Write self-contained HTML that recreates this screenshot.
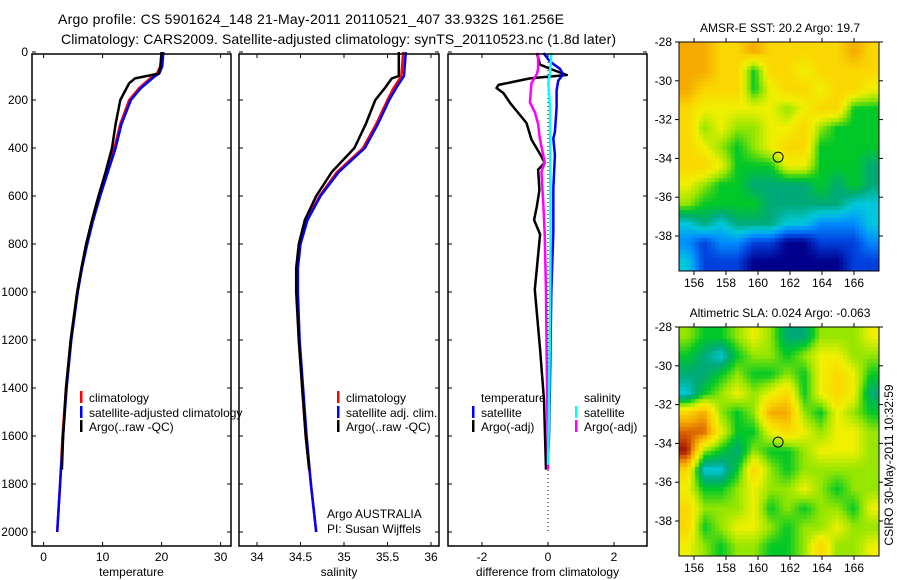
<!DOCTYPE html>
<html><head><meta charset="utf-8"><style>
body{margin:0;background:#fff}
#wrap{position:relative;width:900px;height:580px}
svg{display:block;position:absolute;left:0;top:0;font-family:"Liberation Sans",sans-serif}
canvas{position:absolute}
</style></head><body>
<div id="wrap">
<canvas id="c0" width="200" height="229" style="left:679px;top:42px"></canvas>
<canvas id="c1" width="200" height="229" style="left:679px;top:327px"></canvas>
<svg id="fig" width="900" height="580" xmlns="http://www.w3.org/2000/svg">
<text x="58" y="24" font-size="14" textLength="506">Argo profile: CS 5901624_148 21-May-2011 20110521_407 33.932S 161.256E</text>
<text x="61" y="44" font-size="14" textLength="555">Climatology: CARS2009. Satellite-adjusted climatology: synTS_20110523.nc (1.8d later)</text>
<g id="plots"></g>
<text transform="translate(893,465) rotate(-90)" text-anchor="middle" font-size="12">CSIRO 30-May-2011 10:32:59</text>
</svg>
</div>
<script>
// ---------- data ----------
const tempArgo=[[0,20],[60,19.8],[90,19.5],[100,17.5],[110,15.5],[130,14.5],[200,13.0],[300,12.2],[400,11.6],[500,10.5],[600,9.3],[700,8.2],[800,7.2],[900,6.4],[1000,5.7],[1200,4.6],[1400,3.8],[1600,3.3],[1740,3.1]];
const tempClim=[[0,20],[60,19.8],[90,19.2],[100,18.5],[150,16.2],[200,14.5],[300,13.0],[400,12.0],[500,10.8],[600,9.5],[700,8.3],[800,7.3],[900,6.5],[1000,5.7],[1200,4.6],[1400,3.8],[1600,3.2],[1800,2.8],[2000,2.3]];
const tempSat=[[0,20.3],[60,20.1],[90,19.6],[100,18.9],[150,16.5],[200,14.8],[300,13.2],[400,12.2],[500,10.9],[600,9.6],[700,8.4],[800,7.4],[900,6.5],[1000,5.8],[1200,4.7],[1400,3.9],[1600,3.3],[1800,2.8],[2000,2.3]];
const salArgo=[[0,35.63],[100,35.63],[110,35.55],[150,35.47],[200,35.36],[300,35.25],[400,35.12],[500,34.86],[600,34.68],[700,34.55],[800,34.48],[900,34.45],[1000,34.45],[1200,34.48],[1400,34.52],[1600,34.56],[1740,34.6]];
const salClim=[[0,35.68],[100,35.66],[150,35.57],[200,35.5],[300,35.37],[400,35.22],[500,34.92],[600,34.72],[700,34.57],[800,34.49],[900,34.46],[1000,34.46],[1200,34.48],[1400,34.52],[1600,34.56],[1800,34.62],[2000,34.68]];
const salSat=[[0,35.71],[100,35.69],[150,35.6],[200,35.52],[300,35.39],[400,35.24],[500,34.94],[600,34.73],[700,34.58],[800,34.5],[900,34.47],[1000,34.47],[1200,34.49],[1400,34.53],[1600,34.57],[1800,34.62],[2000,34.68]];
const diffTempArgo=[[4,-0.34],[53,-0.24],[75,0.16],[96,0.57],[110,-0.55],[137,-1.5],[150,-1.56],[171,-1.35],[212,-1.15],[254,-0.9],[296,-0.65],[365,-0.5],[435,-0.2],[462,-0.1],[490,-0.3],[575,-0.26],[644,-0.34],[700,-0.42],[760,-0.24],[990,-0.4],[1240,-0.24],[1450,-0.12],[1740,-0.06]];
const diffTempSat=[[4,-0.14],[40,0.06],[70,0.36],[92,0.46],[120,0.31],[160,0.26],[230,0.26],[333,0.21],[360,0.16],[430,0.21],[570,0.16],[750,0.16],[1000,0.1],[1300,0.07],[1600,0.03],[1700,0.0]];
const diffSalArgo=[[4,-0.3],[70,-0.3],[92,-0.34],[130,-0.5],[210,-0.55],[250,-0.4],[300,-0.3],[360,-0.25],[460,-0.1],[500,-0.2],[640,-0.14],[760,-0.1],[1000,-0.06],[1400,-0.03],[1740,0.0]];
const diffSalSat=[[4,0.1],[90,0.06],[130,0.01],[230,0.06],[760,0.08],[1100,0.06],[1500,0.03],[1720,0.0]];
const lonTicks=[156,158,160,162,164,166];
const latTicks=[-28,-30,-32,-34,-36,-38];
const sstGrid=[
[9,9,8,8,9,8,8,8,8,8,9,8],
[9,9,8,8,5,8,8,7,8,8,8,8],
[9,8,8,8,5,7,8,8,7,8,8,7],
[8,7,7,7,7,7,6,7,8,8,5,5],
[8,6,7,6,6,7,7,8,6,5,5,5],
[8,7,6,5,6,7,8,8,5,5,5,5],
[8,8,7,5,5,5,7,7,5,5,5,4],
[7,6,5,5,4,4,4,4,5,4,5,4],
[6,5,5,5,5,4,4,4,4,4,3,3],
[3,4,3,4,4,4,3,3,2,2,2,3],
[2,1,2,2,1,1,0,0,1,1,1,2],
[3,1,1,1,0,0,0,0,0,0,1,1]];
const slaGrid=[
[6,5,5,6,7,6,4,4,6,6,6,7],
[5,4,3,5,6,6,5,6,7,7,6,6],
[4,4,5,6,5,5,6,5,7,8,7,5],
[3,5,6,7,6,7,8,5,7,8,7,4],
[8,9,6,5,6,9,9,6,5,7,6,5],
[10,10,7,5,5,7,8,7,6,7,7,6],
[11,6,5,4,6,5,5,6,7,7,7,6],
[8,3,3,5,8,6,5,6,6,6,6,6],
[7,5,5,6,7,6,6,7,6,5,6,6],
[8,6,6,6,7,5,6,5,6,6,5,7],
[8,5,6,7,7,6,5,6,6,7,6,6],
[7,6,5,6,6,5,5,6,8,6,6,7]];
const floatLon=161.256, floatLat=-33.932;
// ---------- helpers ----------
const NS="http://www.w3.org/2000/svg";
const root=document.getElementById('plots');
function mk(tag,attrs,parent){const e=document.createElementNS(NS,tag);for(const k in attrs)e.setAttribute(k,attrs[k]);(parent||root).appendChild(e);return e;}
const yD=d=>52+d*0.24;
const PT=54,PB=546;
const panels=[
 {x0:32,x1:231,sx:v=>43.6+v*5.9,ticks:[0,10,20,30],lab:['0','10','20','30'],title:'temperature',name:'temperature-panel',ylab:true},
 {x0:239,x1:439,sx:v=>257+(v-34)*87,ticks:[34,34.5,35,35.5,36],lab:['34','34.5','35','35.5','36'],title:'salinity',name:'salinity-panel'},
 {x0:448,x1:647,sx:v=>548+v*33,ticks:[-2,0,2],lab:['-2','0','2'],title:'difference from climatology',name:'difference-panel'}];
const depthTicks=[0,200,400,600,800,1000,1200,1400,1600,1800,2000];
let defs=mk('defs',{});
panels.forEach((p,i)=>{
  const g=mk('g',{});
  
  
  mk('rect',{x:p.x0,y:PT,width:p.x1-p.x0,height:PB-PT,fill:'#fff'},g);
  const cp=mk('clipPath',{id:'cp'+i},defs);mk('rect',{x:p.x0,y:PT-2,width:p.x1-p.x0,height:PB-PT+2},cp);
  p.g=g;p.clip=mk('g',{'clip-path':'url(#cp'+i+')'},g);
  p.ticks.forEach((t,j)=>{const x=p.sx(t);
    mk('line',{x1:x,x2:x,y1:PB,y2:PB-4,stroke:'#000'},g);mk('line',{x1:x,x2:x,y1:PT,y2:PT+4,stroke:'#000'},g);
    const tx=mk('text',{x:x,y:561,'text-anchor':'middle','font-size':12},g);tx.textContent=p.lab[j];});
  depthTicks.forEach(d=>{const y=yD(d);
    mk('line',{x1:p.x0,x2:p.x0+4,y1:y,y2:y,stroke:'#000'},g);mk('line',{x1:p.x1,x2:p.x1-4,y1:y,y2:y,stroke:'#000'},g);
    if(p.ylab){const tx=mk('text',{x:28,y:y+4,'text-anchor':'end','font-size':12},g);tx.textContent=String(d);}});
  const tt=mk('text',{x:(p.x0+p.x1)/2,y:576,'text-anchor':'middle','font-size':12},g);tt.textContent=p.title;
  
  
});
function line(p,data,fn,color,name,w){
  const pts=data.map(([d,v])=>fn(v).toFixed(1)+','+yD(d).toFixed(1)).join(' ');
  const l=mk('polyline',{points:pts,fill:'none',stroke:color,'stroke-width':w||2.5,'stroke-linejoin':'round'},p.clip);
  
  
}
const [P1,P2,P3]=panels;
line(P1,tempClim,P1.sx,'#f00','temp-climatology-line');
line(P1,tempSat,P1.sx,'#00f','temp-satellite-line');
line(P1,tempArgo,P1.sx,'#000','temp-argo-line');
line(P2,salClim,P2.sx,'#f00','sal-climatology-line');
line(P2,salSat,P2.sx,'#00f','sal-satellite-line');
line(P2,salArgo,P2.sx,'#000','sal-argo-line');
mk('line',{x1:P3.sx(0),x2:P3.sx(0),y1:PT,y2:yD(2000),stroke:'#000','stroke-dasharray':'1,3'},P3.clip);
line(P3,diffTempArgo,P3.sx,'#000','diff-temp-argo-line');
line(P3,diffSalArgo,P3.sx,'#f0f','diff-sal-argo-line');
line(P3,diffTempSat,P3.sx,'#00f','diff-temp-satellite-line');
line(P3,diffSalSat,P3.sx,'#0ff','diff-sal-satellite-line');
panels.forEach(p=>mk('rect',{x:p.x0,y:PT,width:p.x1-p.x0,height:PB-PT,fill:'none',stroke:'#000','stroke-width':1.5},p.g));
function legend(x,y,color,text,name){
  const g=mk('g',{});
  
  
  if(color)mk('rect',{x:x,y:y-11,width:2.5,height:12,fill:color},g);
  const t=mk('text',{x:x+9,y:y,'font-size':12},g);t.textContent=text;
}
legend(80,402,'#f00','climatology','legend-climatology');
legend(80,417,'#00f','satellite-adjusted climatology','legend-satellite-adjusted');
legend(80,431,'#000','Argo(..raw -QC)','legend-argo');
legend(337,402,'#f00','climatology','legend2-climatology');
legend(337,417,'#00f','satellite adj. clim.','legend2-satellite');
legend(337,431,'#000','Argo(..raw -QC)','legend2-argo');
legend(472,402,null,'temperature','legend3-temperature-header');
legend(472,417,'#00f','satellite','legend3-temp-satellite');
legend(472,431,'#000','Argo(-adj)','legend3-temp-argo');
legend(575,402,null,'salinity','legend3-salinity-header');
legend(575,417,'#0ff','satellite','legend3-sal-satellite');
legend(575,431,'#f0f','Argo(-adj)','legend3-sal-argo');
{const t=mk('text',{x:327,y:518,'font-size':12});t.textContent='Argo AUSTRALIA';
 
 const t2=mk('text',{x:327,y:533,'font-size':12});t2.textContent='PI: Susan Wijffels';
 }
// ---------- maps ----------
const cmap=[[0,0,140],[0,64,220],[0,140,255],[0,200,220],[0,170,120],[0,200,40],[150,230,0],[240,240,0],[250,215,0],[245,170,0],[220,100,0],[160,20,0]];
const lonX=l=>694+(l-156)*16;
function drawGrid(cid,grid){
  const cv=document.getElementById(cid),ctx=cv.getContext('2d');
  const W=cv.width,H=cv.height,rows=grid.length,cols=grid[0].length,B=4;
  for(let py=0;py<H;py+=B)for(let px=0;px<W;px+=B){
    let u=(px+B/2)/W*cols-0.5,v=(py+B/2)/H*rows-0.5;
    u=Math.max(0,Math.min(cols-1.001,u));v=Math.max(0,Math.min(rows-1.001,v));
    const i=Math.floor(v),j=Math.floor(u),fu=u-j,fv=v-i;
    const val=grid[i][j]*(1-fu)*(1-fv)+grid[i][j+1]*fu*(1-fv)+grid[i+1][j]*(1-fu)*fv+grid[i+1][j+1]*fu*fv;
    const k=Math.min(cmap.length-2,Math.floor(val)),f=val-k,a=cmap[k],b=cmap[k+1];
    ctx.fillStyle='rgb('+a.map((c,n)=>Math.round(c+(b[n]-c)*f)).join(',')+')';
    ctx.fillRect(px,py,B,B);
  }
}
function map(top,grid,cid,title,name){
  drawGrid(cid,grid);
  const g=mk('g',{});
  
  
  const latY=l=>top+(-28-l)*19.4;
  const X0=679,X1=879,Y0=top,Y1=top+229;
  mk('rect',{x:X0,y:Y0,width:X1-X0,height:Y1-Y0,fill:'none',stroke:'#000'},g);
  lonTicks.forEach(l=>{const x=lonX(l);mk('line',{x1:x,x2:x,y1:Y1,y2:Y1+4,stroke:'#000'},g);mk('line',{x1:x,x2:x,y1:Y0,y2:Y0-4,stroke:'#000'},g);
    const t=mk('text',{x:x,y:Y1+16,'text-anchor':'middle','font-size':12},g);t.textContent=String(l);});
  latTicks.forEach(l=>{const y=latY(l);mk('line',{x1:X0,x2:X0-4,y1:y,y2:y,stroke:'#000'},g);mk('line',{x1:X1,x2:X1+4,y1:y,y2:y,stroke:'#000'},g);
    const t=mk('text',{x:672,y:y+4,'text-anchor':'end','font-size':12},g);t.textContent=String(l);});
  const c=mk('circle',{cx:lonX(floatLon),cy:latY(floatLat),r:5,fill:'none',stroke:'#000'},g);
  
  
  const t=mk('text',{x:780,y:top-10,'text-anchor':'middle','font-size':12},g);t.textContent=title;
}
map(42,sstGrid,'c0','AMSR-E SST: 20.2  Argo: 19.7','sst-map');
map(327,slaGrid,'c1','Altimetric SLA: 0.024  Argo: -0.063','sla-map');
</script>
</body></html>
